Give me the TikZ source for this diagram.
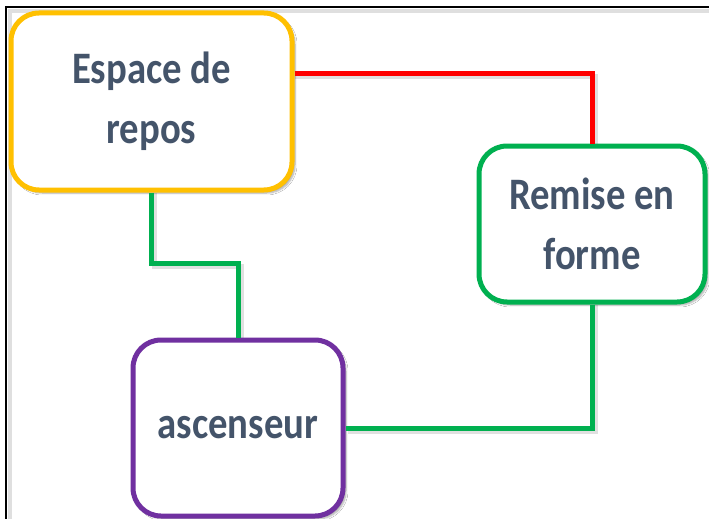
\documentclass[tikz,border=0pt]{standalone}
\usepackage{fontspec}
\setmainfont{Carlito}[FakeStretch=0.86]
\usetikzlibrary{shadows.blur}
\definecolor{txtc}{HTML}{44546A}
\definecolor{yel}{HTML}{FFC000}
\definecolor{grn}{HTML}{00B050}
\definecolor{rd}{HTML}{FF0000}
\definecolor{pur}{HTML}{7030A0}
\tikzset{
  box/.style={draw, line width=5pt, rounded corners=28pt, fill=white,
    align=center, text=txtc, font=\fontsize{45}{60}\selectfont\bfseries,
    blur shadow={shadow xshift=3pt, shadow yshift=-3pt, shadow blur steps=6, shadow opacity=35}},
  link/.style={line width=5pt},
  linkshadow/.style={line width=5pt, black, opacity=0.12},
}
\begin{document}
\begin{tikzpicture}[x=1pt,y=-1pt]
\useasboundingbox (0,0) rectangle (709,519);
\fill[white] (0,0) rectangle (709,519);
% frame
\draw[gray!25, line width=4pt] (10,519) -- (10,11) -- (709,11);
\draw[black, line width=2pt] (6,519) -- (6,7) -- (709,7);
% link shadows
\draw[linkshadow] (295,76) -- (595,76) -- (595,146);
\draw[linkshadow] (595,305) |- (348,431);
\draw[linkshadow] (154.5,193) |- (241,266) -- (241,340);
% boxes
\node[box, draw=yel, minimum width=281pt, minimum height=177pt] (rest) at (151.5,101.5) {Espace de\\repos};
\node[box, draw=grn, minimum width=226pt, minimum height=156pt] (fit) at (592,224) {Remise en\\forme};
\node[box, draw=pur, minimum width=210pt, minimum height=176pt] (lift) at (238,428) {ascenseur};
% connectors
\coordinate (r1) at (592,73);
\coordinate (g1) at (238,263);
\draw[link, rd] (rest.east |- r1) -- (r1) -- (fit.north);
\draw[link, grn] (rest.south) |- (g1) -- (lift.north);
\draw[link, grn] (fit.south) |- (lift.east);
\end{tikzpicture}
\end{document}
